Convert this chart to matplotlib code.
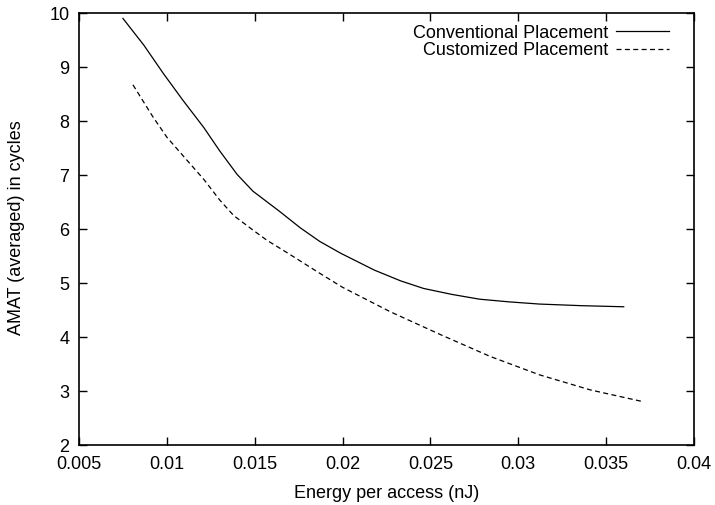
import matplotlib
matplotlib.use("Agg")
import matplotlib.pyplot as plt

plt.rcParams['font.family'] = ['Liberation Sans', 'DejaVu Sans']

# Conventional placement: energy per access (nJ) vs averaged AMAT (cycles)
conv_energy = [0.0075, 0.0087, 0.0098, 0.0109, 0.0121, 0.0130, 0.0140, 0.0149,
               0.0164, 0.0176, 0.0187, 0.0199, 0.0218, 0.0233, 0.0246, 0.0262,
               0.0278, 0.0295, 0.0312, 0.0336, 0.0360]
conv_amat = [9.90, 9.40, 8.88, 8.39, 7.88, 7.45, 7.01, 6.70,
             6.33, 6.02, 5.77, 5.55, 5.24, 5.04, 4.90, 4.79,
             4.70, 4.65, 4.61, 4.58, 4.56]

# Customized placement
cust_energy = [0.00807, 0.0092, 0.0100, 0.0111, 0.0121, 0.0130, 0.0138, 0.0149,
               0.0157, 0.0168, 0.0187, 0.0200, 0.0227, 0.0256, 0.0284, 0.0312,
               0.0341, 0.0370]
cust_amat = [8.67, 8.08, 7.70, 7.29, 6.92, 6.54, 6.25, 5.98,
             5.79, 5.57, 5.18, 4.92, 4.47, 4.04, 3.64, 3.30,
             3.02, 2.81]

x_ticks = [0.005, 0.01, 0.015, 0.02, 0.025, 0.03, 0.035, 0.04]
x_tick_labels = ["0.005", "0.01", "0.015", "0.02", "0.025", "0.03", "0.035", "0.04"]
y_ticks = [2, 3, 4, 5, 6, 7, 8, 9, 10]

W, H = 715, 505
fig = plt.figure(figsize=(W / 100, H / 100), dpi=100)
left, right, top, bottom = 79, 694, 13, 445
ax = fig.add_axes([left / W, 1 - bottom / H, (right - left) / W, (bottom - top) / H])

ax.plot(conv_energy, conv_amat, color='black', lw=0.9, label='Conventional Placement')
ax.plot(cust_energy, cust_amat, color='black', lw=0.9, dashes=(4, 2.7),
        label='Customized Placement')

ax.set_xlim(0.005, 0.04)
ax.set_ylim(2, 10)
ax.set_xticks(x_ticks)
ax.set_xticklabels(x_tick_labels)
ax.set_yticks(y_ticks)
ax.tick_params(direction='in', length=5.8, width=1, top=True, right=True,
               labelsize=13, colors='black')
ax.tick_params(axis='x', pad=8)
ax.tick_params(axis='y', pad=7)
for s in ax.spines.values():
    s.set_linewidth(1.2)

fig.text(17 / W, 1 - 228 / H, 'AMAT (averaged) in cycles', fontsize=13,
         rotation=90, ha='center', va='center')
fig.text(387 / W, 1 - 493 / H, 'Energy per access (nJ)', fontsize=13,
         ha='center', va='center')

ax.legend(loc='upper right', bbox_to_anchor=(0.978, 1.0), frameon=False,
          markerfirst=False, fontsize=13, handlelength=2.9, handletextpad=0.45,
          labelspacing=0.03, borderaxespad=0.25)

fig.savefig('out.png', dpi=100)
